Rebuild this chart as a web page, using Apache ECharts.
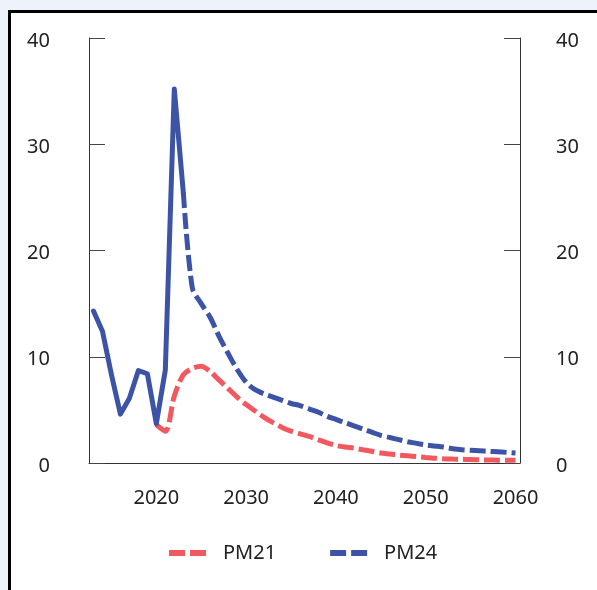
<!DOCTYPE html>
<html>
<head>
<meta charset="utf-8">
<script src="https://cdn.jsdelivr.net/npm/echarts@6/dist/echarts.min.js"></script>
<style>
  html, body { margin: 0; padding: 0; background: #eef2fb; width: 597px; height: 590px; overflow: hidden; }
  #frame { position: absolute; left: 8px; top: 10px; width: 700px; height: 700px; border: 3px solid #000; background: #fff; }
  #chart { position: absolute; left: 0; top: 0; width: 597px; height: 590px; }
</style>
</head>
<body>
<div id="frame"></div>
<div id="chart"></div>
<script>
// Years on the x axis
const years = [];
for (let y = 2013; y <= 2060; y++) years.push(String(y));

// Historical values (solid blue), 2013–2023
const histYears = [2013, 2014, 2015, 2016, 2017, 2018, 2019, 2020, 2021, 2022, 2023];
const histValues = [14.3, 12.4, 8.3, 4.6, 6.1, 8.7, 8.4, 3.7, 8.75, 35.2, 25.5];

// PM21 projection (dashed red), 2020–2060
const pm21Start = 2020;
const pm21Values = [3.6, 3.0, 6.3, 8.3, 8.9, 9.1, 8.6, 7.8, 7.0, 6.2, 5.5,
  4.9, 4.3, 3.8, 3.35, 3.0, 2.75, 2.5, 2.2, 1.9, 1.65,
  1.5, 1.4, 1.25, 1.1, 0.95, 0.85, 0.75, 0.68, 0.6, 0.52,
  0.45, 0.4, 0.37, 0.35, 0.33, 0.3, 0.28, 0.27, 0.26, 0.25];

// PM24 projection (dashed blue), 2023–2060
const pm24Start = 2023;
const pm24Values = [25.5, 16.5, 15.0, 13.7, 11.9, 10.3, 8.8, 7.6,
  6.9, 6.5, 6.2, 5.9, 5.6, 5.4, 5.1, 4.8, 4.4, 4.1,
  3.8, 3.5, 3.2, 2.9, 2.6, 2.4, 2.2, 2.0, 1.85, 1.7,
  1.6, 1.5, 1.35, 1.25, 1.2, 1.15, 1.1, 1.05, 1.0, 0.95];

// Y axis ticks
const yTicks = [0, 10, 20, 30, 40];

function place(startYear, values) {
  const out = years.map(() => null);
  values.forEach((v, i) => { out[startYear - 2013 + i] = v; });
  return out;
}

const BLUE = '#3d54a6';
const RED = '#f2585f';
const FONT = 'Noto Sans';
const FS = 20;
const DASH_ICON = 'path://M0,0h16v6h-16z M21,0h16v6h-16z';

const chart = echarts.init(document.getElementById('chart'), null, { renderer: 'canvas' });

const yAxisCommon = {
  type: 'value',
  min: yTicks[0],
  max: yTicks[yTicks.length - 1],
  interval: 10,
  splitLine: { show: false },
  axisLine: { show: true, lineStyle: { color: '#333', width: 1 } },
  axisTick: { show: true, inside: true, length: 16, lineStyle: { color: '#444', width: 1 } },
};

const yLabel = (margin) => ({
  margin: margin,
  formatter: '{a|{value}}',
  rich: { a: { fontSize: FS, color: '#222', fontFamily: FONT, padding: [6, 0, 0, 0] } }
});

chart.setOption({
  animation: false,
  backgroundColor: 'transparent',
  textStyle: { fontFamily: FONT },
  grid: { left: 89, right: 77, top: 38, bottom: 127, containLabel: false },
  legend: {
    data: [
      { name: 'PM21', icon: DASH_ICON, itemStyle: { color: RED } },
      { name: 'PM24', icon: DASH_ICON, itemStyle: { color: BLUE } }
    ],
    bottom: 27,
    left: 169,
    padding: 0,
    itemWidth: 37,
    itemHeight: 6,
    itemGap: 54,
    textStyle: { fontSize: FS, color: '#222', fontFamily: FONT, padding: [0, 0, 0, 12] }
  },
  xAxis: {
    type: 'category',
    data: years,
    boundaryGap: true,
    axisLine: { show: true, lineStyle: { color: '#333', width: 1 } },
    axisTick: { show: false },
    axisLabel: {
      interval: (idx, val) => Number(val) % 10 === 0,
      margin: 25,
      fontSize: FS,
      color: '#222',
      fontFamily: FONT
    }
  },
  yAxis: [
    Object.assign({}, yAxisCommon, { position: 'left', axisLabel: yLabel(39) }),
    Object.assign({}, yAxisCommon, { position: 'right', axisLabel: yLabel(36) })
  ],
  series: [
    {
      name: 'Historikk',
      type: 'line',
      data: place(histYears[0], histValues),
      showSymbol: false,
      symbol: 'none',
      lineStyle: { color: BLUE, width: 5, cap: 'round', join: 'round' },
      itemStyle: { color: BLUE },
      z: 3
    },
    {
      name: 'PM21',
      type: 'line',
      data: place(pm21Start, pm21Values),
      symbol: 'none',
      smooth: 0.3,
      lineStyle: { color: RED, width: 5, type: [16, 5] },
      itemStyle: { color: RED },
      z: 2
    },
    {
      name: 'PM24',
      type: 'line',
      data: place(pm24Start, pm24Values),
      symbol: 'none',
      smooth: 0.3,
      lineStyle: { color: BLUE, width: 5, type: [16, 5] },
      itemStyle: { color: BLUE },
      z: 2
    }
  ]
});
</script>
</body>
</html>
